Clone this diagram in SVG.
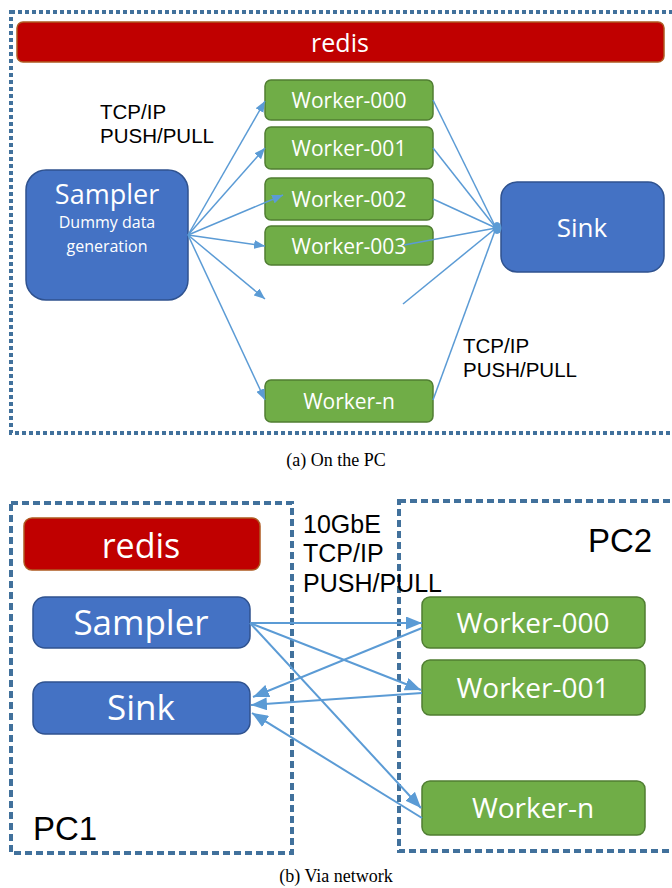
<svg xmlns="http://www.w3.org/2000/svg" width="672" height="888" viewBox="0 0 672 888">
  <style>
    .frameA { fill: none; stroke: #41719C; stroke-width: 4; stroke-dasharray: 4 3; }
    .frameB { fill: none; stroke: #41719C; stroke-width: 4; stroke-dasharray: 7 4; }
    .redis { fill: #C00000; stroke: #AE5A21; stroke-width: 1.5; }
    .blue { fill: #4472C4; stroke: #2F528F; stroke-width: 1.5; }
    .green { fill: #70AD47; stroke: #507E32; stroke-width: 1.5; }
    .wt { fill: #FFFFFF; font-family: "Open Sans", "Noto Sans", sans-serif; text-anchor: middle; }
    .bt { fill: #000000; font-family: "Liberation Sans", Arial, sans-serif; }
    .cap { fill: #000000; font-family: "Liberation Serif", serif; font-size: 18px; text-anchor: middle; }
    .conA { fill: none; stroke: #5B9BD5; stroke-width: 1.5; }
    .conB { fill: none; stroke: #5B9BD5; stroke-width: 2; }
  </style>
  <defs>
    <marker id="ahA" markerUnits="userSpaceOnUse" markerWidth="11" markerHeight="9" refX="11" refY="4.5" orient="auto">
      <path d="M0,0 L11,4.5 L0,9 z" fill="#5B9BD5"/>
    </marker>
    <marker id="ahB" markerUnits="userSpaceOnUse" markerWidth="16" markerHeight="13" refX="16" refY="6.5" orient="auto">
      <path d="M0,0 L16,6.5 L0,13 z" fill="#5B9BD5"/>
    </marker>
  </defs>

  <!-- (a) On the PC -->
  <rect class="frameA" x="11" y="12" width="672" height="421"/>

  <g id="redisA">
    <rect class="redis" x="17" y="22" width="647" height="40" rx="6"/>
    <text class="wt" x="340" y="52" font-size="25">redis</text>
  </g>

  <g id="samplerA">
    <rect class="blue" x="26" y="170" width="162" height="130" rx="20"/>
    <text class="wt" x="107" y="204" font-size="27">Sampler</text>
    <text class="wt" x="107" y="228" font-size="16">Dummy data</text>
    <text class="wt" x="107" y="252" font-size="16">generation</text>
  </g>

  <g id="sinkA">
    <rect class="blue" x="501" y="182" width="163" height="90" rx="16"/>
    <text class="wt" x="582" y="237" font-size="26">Sink</text>
  </g>

  <g id="workerA000">
    <rect class="green" x="265" y="80" width="168" height="40" rx="6"/>
    <text class="wt" x="349" y="108" font-size="21">Worker-000</text>
  </g>
  <g id="workerA001">
    <rect class="green" x="265" y="127" width="168" height="42" rx="6"/>
    <text class="wt" x="349" y="156" font-size="21">Worker-001</text>
  </g>
  <g id="workerA002">
    <rect class="green" x="265" y="178" width="168" height="42" rx="6"/>
    <text class="wt" x="349" y="207" font-size="21">Worker-002</text>
  </g>
  <g id="workerA003">
    <rect class="green" x="265" y="226" width="168" height="39" rx="6"/>
    <text class="wt" x="349" y="254" font-size="21">Worker-003</text>
  </g>
  <g id="workerAn">
    <rect class="green" x="265" y="380" width="168" height="42" rx="6"/>
    <text class="wt" x="349" y="409" font-size="21">Worker-n</text>
  </g>

  <g id="labelsA">
    <text class="bt" x="100" y="119" font-size="20.5">TCP/IP</text>
    <text class="bt" x="100" y="143" font-size="20.5">PUSH/PULL</text>
    <text class="bt" x="463" y="353" font-size="20.5">TCP/IP</text>
    <text class="bt" x="463" y="377" font-size="20.5">PUSH/PULL</text>
  </g>

  <g id="connectorsA">
    <line class="conA" x1="188" y1="235" x2="265" y2="101" marker-end="url(#ahA)"/>
    <line class="conA" x1="188" y1="235" x2="265" y2="148" marker-end="url(#ahA)"/>
    <line class="conA" x1="188" y1="235" x2="283" y2="195" marker-end="url(#ahA)"/>
    <line class="conA" x1="188" y1="235" x2="265" y2="246" marker-end="url(#ahA)"/>
    <line class="conA" x1="188" y1="235" x2="265" y2="299" marker-end="url(#ahA)"/>
    <line class="conA" x1="188" y1="235" x2="265" y2="400" marker-end="url(#ahA)"/>
    <line class="conA" x1="433" y1="100" x2="496" y2="228"/>
    <line class="conA" x1="433" y1="148" x2="496" y2="228"/>
    <line class="conA" x1="433" y1="199" x2="496" y2="228"/>
    <line class="conA" x1="404" y1="245" x2="496" y2="228"/>
    <line class="conA" x1="403" y1="304" x2="496" y2="228"/>
    <line class="conA" x1="433" y1="400" x2="496" y2="228"/>
    <ellipse cx="497" cy="228" rx="4.5" ry="6" fill="#5B9BD5"/>
  </g>

  <text class="cap" x="336" y="466">(a) On the PC</text>

  <!-- (b) Via network -->
  <rect class="frameB" x="11" y="503" width="281" height="350"/>
  <rect class="frameB" x="399" y="501" width="290" height="350"/>

  <g id="redisB">
    <rect class="redis" x="24" y="518" width="236" height="52" rx="8"/>
    <text class="wt" x="141" y="558" font-size="34">redis</text>
  </g>
  <g id="samplerB">
    <rect class="blue" x="33" y="597" width="217" height="51" rx="12"/>
    <text class="wt" x="141" y="635" font-size="35">Sampler</text>
  </g>
  <g id="sinkB">
    <rect class="blue" x="33" y="682" width="217" height="52" rx="12"/>
    <text class="wt" x="141" y="720" font-size="35">Sink</text>
  </g>
  <g id="workerB000">
    <rect class="green" x="422" y="597" width="223" height="51" rx="8"/>
    <text class="wt" x="533" y="633" font-size="28">Worker-000</text>
  </g>
  <g id="workerB001">
    <rect class="green" x="422" y="660" width="223" height="55" rx="8"/>
    <text class="wt" x="533" y="698" font-size="28">Worker-001</text>
  </g>
  <g id="workerBn">
    <rect class="green" x="422" y="781" width="223" height="54" rx="8"/>
    <text class="wt" x="533" y="818" font-size="28">Worker-n</text>
  </g>

  <g id="labelsB">
    <text class="bt" x="303" y="533" font-size="25">10GbE</text>
    <text class="bt" x="303" y="562" font-size="25">TCP/IP</text>
    <text class="bt" x="303" y="592" font-size="25">PUSH/PULL</text>
    <text class="bt" x="588" y="552" font-size="33">PC2</text>
    <text class="bt" x="33" y="840" font-size="33">PC1</text>
  </g>

  <g id="connectorsB">
    <line class="conB" x1="250" y1="623" x2="422" y2="623" marker-end="url(#ahB)"/>
    <line class="conB" x1="250" y1="623" x2="421" y2="690" marker-end="url(#ahB)"/>
    <line class="conB" x1="250" y1="623" x2="421" y2="808" marker-end="url(#ahB)"/>
    <line class="conB" x1="422" y1="628" x2="253" y2="697" marker-end="url(#ahB)"/>
    <line class="conB" x1="422" y1="693" x2="251" y2="705" marker-end="url(#ahB)"/>
    <line class="conB" x1="422" y1="818" x2="252" y2="713" marker-end="url(#ahB)"/>
  </g>

  <text class="cap" x="336" y="882">(b) Via network</text>
</svg>
